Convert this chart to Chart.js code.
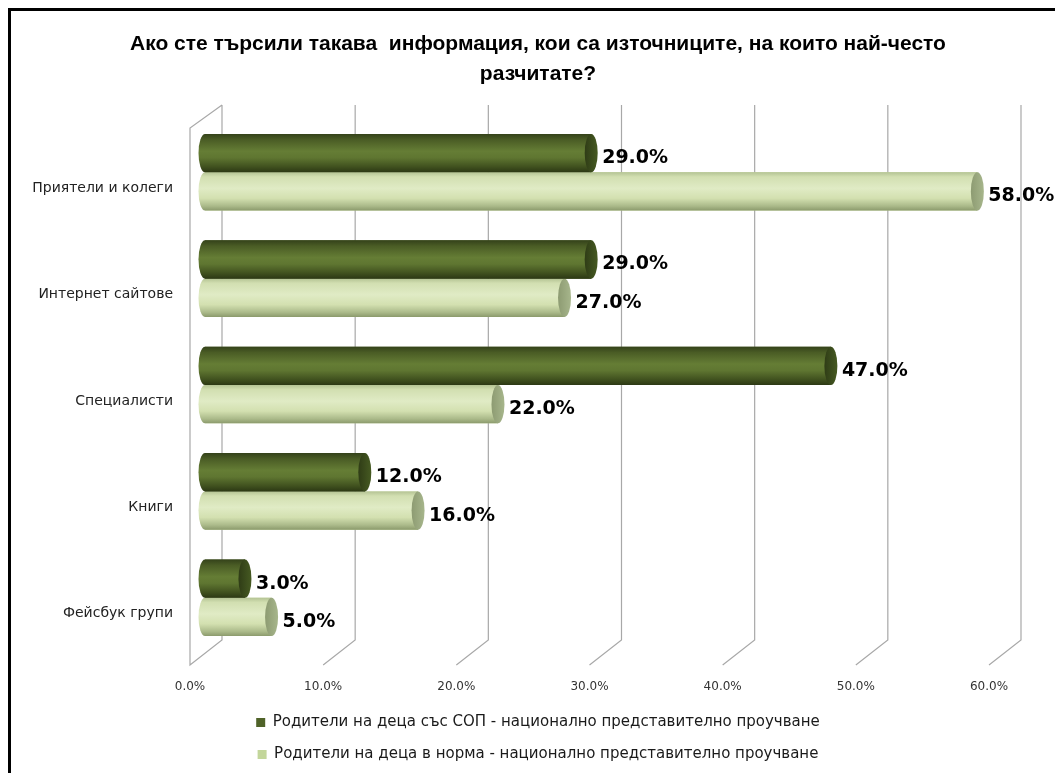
<!DOCTYPE html>
<html>
<head>
<meta charset="utf-8">
<script src="https://cdn.jsdelivr.net/npm/chart.js@4/dist/chart.umd.min.js"></script>
<style>
  html, body { margin: 0; padding: 0; background: #fff; }
  #wrap { width: 1055px; height: 773px; }
</style>
</head>
<body>
<div id="wrap"><canvas id="myChart" width="1055" height="773"></canvas></div>
<script>
const categories = ["Приятели и колеги", "Интернет сайтове", "Специалисти", "Книги", "Фейсбук групи"];
const sopValues = [29, 29, 47, 12, 3];
const normValues = [58, 27, 22, 16, 5];
const seriesNames = [
  "Родители на деца със СОП - национално представително проучване",
  "Родители на деца в норма - национално представително проучване",
];
const titleLines = [
  "Ако сте търсили такава  информация, кои са източниците, на които най-често",
  "разчитате?",
];

const GRID = "#a8a8a8";

// 3d walls, gridlines, cylinders and labels
const cylinderPlugin = {
  id: "cylinders",
  afterLayout(chart) {
    // let the category labels use the space left of the padding
    chart.scales.y.left = 0;
  },
  beforeDatasetsDraw(chart) {
    const { ctx, chartArea } = chart;
    const xs = chart.scales.x;
    ctx.save();
    ctx.strokeStyle = GRID;
    ctx.lineWidth = 1.2;
    for (let v = 0; v <= 60; v += 10) {
      const px = xs.getPixelForValue(v);
      const front = px - 15;
      const back = px + 17;
      ctx.beginPath();
      ctx.moveTo(back, chartArea.top - 14);
      ctx.lineTo(back, chartArea.bottom - 11);
      ctx.lineTo(front, chartArea.bottom + 14);
      if (v === 0) {
        ctx.lineTo(front, chartArea.top + 9);
        ctx.lineTo(back, chartArea.top - 14);
      }
      ctx.stroke();
    }
    ctx.restore();
  },
  afterDatasetsDraw(chart) {
    const { ctx } = chart;
    const styles = [
      {
        body: [[0, "#34421a"], [0.15, "#4a5c25"], [0.45, "#657d35"], [0.62, "#5f7631"], [0.85, "#41521f"], [1, "#2c3814"]],
        cap: ["#2f3c16", "#465a22"],
      },
      {
        body: [[0, "#b4c394"], [0.12, "#d2dfb1"], [0.42, "#e0ebc5"], [0.68, "#d3e0b0"], [0.88, "#abba8a"], [1, "#8b9a6c"]],
        cap: ["#8d9b72", "#a7b68c"],
      },
    ];
    [1, 0].forEach((di) => {
      const meta = chart.getDatasetMeta(di);
      const st = styles[di];
      meta.data.forEach((bar, i) => {
        const { x, y, base, height } = bar.getProps(["x", "y", "base", "height"], true);
        const h = height;
        const top = y - h / 2;
        const rx = 6.5;
        const g = ctx.createLinearGradient(0, top, 0, top + h);
        st.body.forEach(([o, c]) => g.addColorStop(o, c));
        ctx.save();
        ctx.fillStyle = g;
        ctx.beginPath();
        ctx.ellipse(base, y, rx, h / 2, 0, Math.PI / 2, Math.PI * 1.5);
        ctx.lineTo(x, top);
        ctx.lineTo(x, top + h);
        ctx.closePath();
        ctx.fill();
        const cg = ctx.createLinearGradient(x - rx, 0, x + rx, 0);
        cg.addColorStop(0, st.cap[0]);
        cg.addColorStop(1, st.cap[1]);
        ctx.fillStyle = cg;
        ctx.beginPath();
        ctx.ellipse(x, y, rx, h / 2, 0, 0, Math.PI * 2);
        ctx.fill();
        ctx.restore();

        const val = chart.data.datasets[di].data[i];
        ctx.save();
        ctx.font = "bold 19px 'DejaVu Sans'";
        ctx.fillStyle = "#000";
        ctx.textAlign = "left";
        ctx.textBaseline = "middle";
        ctx.fillText(val.toFixed(1) + "%", x + 11, y + 5);
        ctx.restore();
      });
    });
  },
  afterDraw(chart) {
    const { ctx, width, height } = chart;
    ctx.save();
    ctx.strokeStyle = "#000";
    ctx.lineWidth = 3;
    ctx.beginPath();
    ctx.moveTo(9.5, height + 5);
    ctx.lineTo(9.5, 9.5);
    ctx.lineTo(width + 5, 9.5);
    ctx.stroke();
    ctx.restore();
  },
};

new Chart(document.getElementById("myChart").getContext("2d"), {
  type: "bar",
  data: {
    labels: categories,
    datasets: [
      {
        label: seriesNames[0],
        data: sopValues,
        backgroundColor: "#4f6228",
        borderWidth: 0,
      },
      {
        label: seriesNames[1],
        data: normValues,
        backgroundColor: "#c3d69b",
        borderWidth: 0,
      },
    ],
  },
  options: {
    indexAxis: "y",
    responsive: false,
    animation: false,
    events: [],
    categoryPercentage: 0.72,
    barPercentage: 1,
    layout: { padding: { left: 72, right: 51, top: 0, bottom: 1 } },
    scales: {
      x: {
        min: 0,
        max: 60,
        grid: { display: false },
        border: { display: false },
        ticks: {
          stepSize: 10,
          padding: 21,
          labelOffset: -15,
          color: "#333",
          font: { family: "'DejaVu Sans'", size: 12 },
          callback: (v) => Number(v).toFixed(1) + "%",
        },
        afterFit: (scale) => { scale.height = 47; },
      },
      y: {
        grid: { display: false },
        border: { display: false },
        ticks: {
          padding: 24,
          labelOffset: 16,
          color: "#222",
          font: { family: "'DejaVu Sans'", size: 14 },
        },
        afterFit: (scale) => { scale.width = 133; },
      },
    },
    plugins: {
      title: {
        display: true,
        text: titleLines,
        color: "#000",
        font: { family: "'Liberation Sans'", size: 21, weight: "bold", lineHeight: 1.43 },
        padding: { top: 29, bottom: 30 },
      },
      legend: {
        position: "bottom",
        labels: {
          boxWidth: 9,
          boxHeight: 9,
          padding: 17,
          color: "#1a1a1a",
          font: { family: "'DejaVu Sans'", size: 15 },
        },
      },
      tooltip: { enabled: false },
    },
  },
  plugins: [cylinderPlugin],
});
</script>
</body>
</html>
